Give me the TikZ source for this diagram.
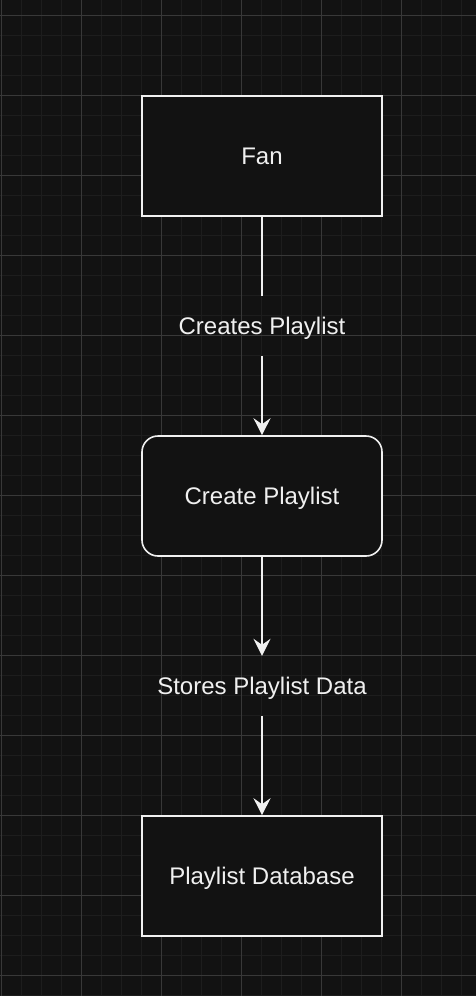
\documentclass[tikz,border=0pt]{standalone}
\usepackage{fontspec}
\setmainfont{Liberation Sans}
\usetikzlibrary{arrows.meta}
\definecolor{bgc}{RGB}{18,18,18}
\definecolor{minorc}{RGB}{29,29,29}
\definecolor{majorc}{RGB}{56,56,56}
\definecolor{fgc}{RGB}{240,240,240}
\tikzset{
  boxnode/.style={draw=fgc, fill=bgc, line width=1.6pt, minimum width=240pt, minimum height=120pt, inner sep=0pt, text depth=0pt, text=fgc, font=\fontsize{24}{28}\selectfont},
  roundbox/.style={boxnode, rounded corners=16pt},
  labnode/.style={inner sep=0pt, minimum height=60pt, text depth=0pt, text=fgc, font=\fontsize{24}{28}\selectfont},
  conn/.style={draw=fgc, line width=1.6pt},
  arr/.style={conn, -{Stealth[length=17pt, width=17pt, inset=6pt]}}
}
\begin{document}
\begin{tikzpicture}[x=1pt, y=-1pt]
\fill[bgc] (0,0) rectangle (476,996);
\useasboundingbox (0,0) rectangle (476,996);
\foreach \gx in {1,21,...,461} {\draw[minorc, line width=1pt] (\gx,0) -- (\gx,996);}
\foreach \gy in {15,35,...,995} {\draw[minorc, line width=1pt] (0,\gy) -- (476,\gy);}
\foreach \gx in {1,81,...,401} {\draw[majorc, line width=1pt] (\gx,0) -- (\gx,996);}
\foreach \gy in {15,95,...,975} {\draw[majorc, line width=1pt] (0,\gy) -- (476,\gy);}
\node[boxnode] (fan) at (262,156) {Fan};
\node[roundbox] (cp) at (262,496) {Create Playlist};
\node[boxnode] (db) at (262,876) {Playlist Database};
\node[labnode] (lab1) at (262,326) {Creates Playlist};
\node[labnode] (lab2) at (262,686) {Stores Playlist Data};
\draw[conn] (fan.south) -- (lab1.north);
\draw[arr] (lab1.south) -- (cp.north);
\draw[arr] (cp.south) -- (lab2.north);
\draw[arr] (lab2.south) -- (db.north);
\end{tikzpicture}
\end{document}
